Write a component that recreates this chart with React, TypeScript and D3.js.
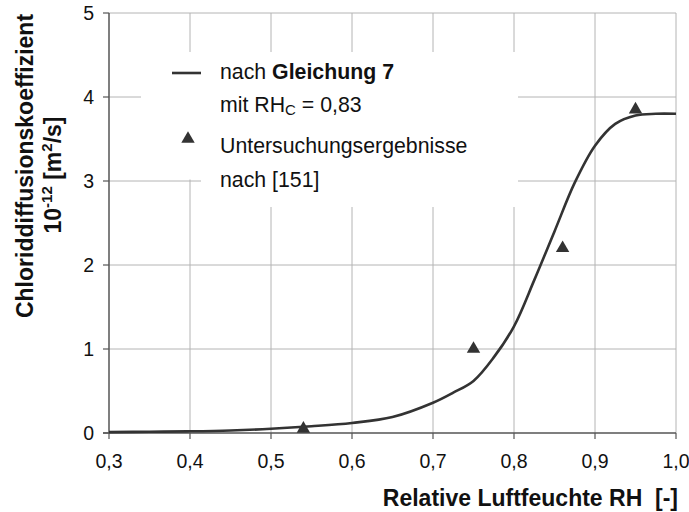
import React from "react";
import * as d3 from "d3";

// Relative humidity (x) and chloride diffusion coefficient in 1e-12 m²/s (y)
const curveRH = [0.30, 0.35, 0.40, 0.45, 0.50, 0.55, 0.60, 0.65, 0.70, 0.725, 0.75, 0.775, 0.80, 0.825, 0.85, 0.875, 0.90, 0.925, 0.95, 0.975, 1.00];
const curveD = [0.01, 0.015, 0.02, 0.03, 0.05, 0.08, 0.12, 0.19, 0.36, 0.48, 0.62, 0.90, 1.27, 1.82, 2.4, 2.98, 3.42, 3.68, 3.78, 3.8, 3.8];

const measuredRH = [0.54, 0.75, 0.86, 0.95];
const measuredD = [0.05, 1.0, 2.2, 3.85];

const xTicks = [0.3, 0.4, 0.5, 0.6, 0.7, 0.8, 0.9, 1.0];
const yTicks = [0, 1, 2, 3, 4, 5];

const FONT = "'Liberation Sans', Arial, Helvetica, sans-serif";
const INK = "#333333";
const GRID = "#b4b4b4";

export default function App() {
  const x = d3.scaleLinear().domain([0.3, 1.0]).range([109, 676]);
  const y = d3.scaleLinear().domain([0, 5]).range([433, 13]);
  const fmt = (v: number) => v.toFixed(1).replace(".", ",");

  const line = d3
    .line<number>()
    .x((_, i) => x(curveRH[i]))
    .y((d) => y(d))
    .curve(d3.curveCatmullRom.alpha(0.5));

  const tri = d3.symbol(d3.symbolTriangle, 78)() as string;

  return (
    <svg
      width={689}
      height={512}
      style={{ position: "absolute", left: 0, top: 0, background: "#fff" }}
      fontFamily={FONT}
    >
      {/* grid */}
      {xTicks.slice(1).map((t) => (
        <line key={"gx" + t} x1={x(t)} x2={x(t)} y1={y(5)} y2={y(0)} stroke={GRID} strokeWidth={1} />
      ))}
      {yTicks.slice(1).map((t) => (
        <line key={"gy" + t} x1={x(0.3)} x2={x(1.0)} y1={y(t)} y2={y(t)} stroke={GRID} strokeWidth={1} />
      ))}

      {/* legend background */}
      <rect x={141} y={52} width={377} height={127.5} fill="#fff" />
      <rect x={201} y={52} width={317} height={155} fill="#fff" />

      {/* axes */}
      <line x1={x(0.3)} x2={x(0.3)} y1={y(5)} y2={y(0)} stroke="#555" strokeWidth={1.5} />
      <line x1={x(0.3) - 6} x2={x(1.0)} y1={y(0)} y2={y(0)} stroke="#555" strokeWidth={1.5} />
      {yTicks.map((t) => (
        <g key={"ty" + t}>
          <line x1={x(0.3) - 6} x2={x(0.3)} y1={y(t)} y2={y(t)} stroke="#555" strokeWidth={1.2} />
          <text x={94} y={y(t) + 6.8} fontSize={19.5} textAnchor="end" fill="#111">
            {t}
          </text>
        </g>
      ))}
      {xTicks.map((t) => (
        <g key={"tx" + t}>
          <line x1={x(t)} x2={x(t)} y1={y(0)} y2={y(0) + 6} stroke="#555" strokeWidth={1.2} />
          <text x={x(t)} y={468} fontSize={19.5} textAnchor="middle" fill="#111">
            {fmt(t)}
          </text>
        </g>
      ))}

      {/* model curve */}
      <path d={line(curveD) || ""} fill="none" stroke={INK} strokeWidth={2.6} strokeLinejoin="round" />

      {/* measurements */}
      {measuredD.map((d, i) => (
        <path key={"m" + i} d={tri} transform={`translate(${x(measuredRH[i])},${y(d)})`} fill={INK} />
      ))}

      {/* legend */}
      <line x1={172} x2={201} y1={73} y2={73} stroke={INK} strokeWidth={2.6} />
      <text x={220} y={79} fontSize={21.3} fill="#111">
        nach <tspan fontWeight="bold">Gleichung 7</tspan>
      </text>
      <text x={220} y={112} fontSize={21.3} fill="#111">
        mit RH<tspan fontSize={15} dy={3}>C</tspan>
        <tspan dy={-3}> = 0,83</tspan>
      </text>
      <path d={tri} transform="translate(188,139)" fill={INK} />
      <text x={220} y={153} fontSize={21.3} fill="#111">
        Untersuchungsergebnisse
      </text>
      <text x={220} y={187} fontSize={21.3} fill="#111">
        nach [151]
      </text>

      {/* axis titles */}
      <text
        transform="translate(33,166) rotate(-90)"
        fontSize={23}
        fontWeight="bold"
        textAnchor="middle"
        fill="#111"
      >
        Chloriddiffusionskoeffizient
      </text>
      <text
        transform="translate(61,175) rotate(-90)"
        fontSize={23}
        fontWeight="bold"
        textAnchor="middle"
        fill="#111"
      >
        10<tspan fontSize={15} dy={-9}>-12</tspan>
        <tspan dy={9}> [m</tspan>
        <tspan fontSize={15} dy={-9}>2</tspan>
        <tspan dy={9}>/s]</tspan>
      </text>
      <text x={678} y={506} fontSize={23} fontWeight="bold" textAnchor="end" fill="#111" xmlSpace="preserve">
        Relative Luftfeuchte RH  [-]
      </text>
    </svg>
  );
}
